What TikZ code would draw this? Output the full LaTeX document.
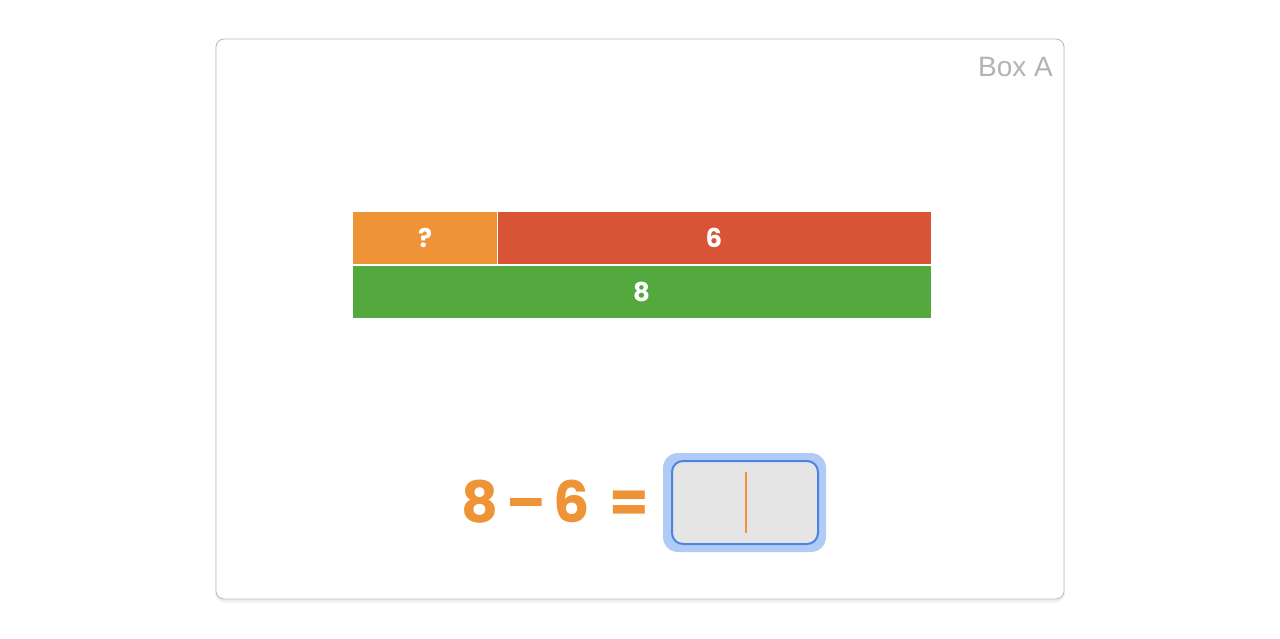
\documentclass[tikz,border=0pt]{standalone}
\usepackage{fontspec}
\setmainfont{Poppins}
\newfontfamily\boxfont{Liberation Sans}
\definecolor{framegray}{HTML}{BDBDBD}
\definecolor{labelgray}{HTML}{B3B3B3}
\definecolor{orangeC}{HTML}{EF9436}
\definecolor{redC}{HTML}{D95436}
\definecolor{greenC}{HTML}{53A93E}
\definecolor{glowblue}{HTML}{B0CBF5}
\definecolor{inputblue}{HTML}{4A86E0}
\definecolor{inputfill}{HTML}{E5E5E5}
\tikzset{
  bar/.style={draw=white, line width=1pt, inner sep=0pt, minimum height=53pt, text=white, font=\bfseries\fontsize{26}{26}\selectfont},
  eqtext/.style={anchor=base, text=orangeC, inner sep=0pt, font=\bfseries\fontsize{57}{57}\selectfont},
}
\begin{document}
\begin{tikzpicture}[x=1pt,y=-1pt]
\useasboundingbox (0,0) rectangle (1280,638);
\fill[white] (0,0) rectangle (1280,638);
% shadow of the frame
\fill[black!4, rounded corners=9pt] (215,40) rectangle (1065,603);
\fill[black!7, rounded corners=8pt] (216,40) rectangle (1064,601);
\node[draw=framegray, fill=white, rounded corners=8pt, line width=0.9pt, inner sep=0pt, minimum width=848pt, minimum height=560pt] (frame) at (640,319) {};
\node[anchor=base east, inner sep=0pt, text=labelgray, font=\boxfont\fontsize{28}{28}\selectfont] (boxa) at (1053,76) {Box A};
% bars
\node[bar, fill=orangeC, minimum width=145pt] (q) at (425,237.5) {?};
\node[bar, fill=redC, minimum width=434pt] (six) at (714,237.5) {6};
\node[bar, fill=greenC, minimum width=579pt] (eight) at (641.5,291.5) {8};
% equation
\node[eqtext] (n8) at (480,522) {8};
\node[eqtext] (minus) at (526,522) {–};
\node[eqtext] (n6) at (572,522) {6};
\node[eqtext] (eq) at (629,522) {=};
% input box
\node[fill=glowblue, rounded corners=15pt, inner sep=0pt, minimum width=163pt, minimum height=99pt] (glow) at (744.5,502.5) {};
\node[fill=inputfill, draw=inputblue, line width=2pt, rounded corners=11pt, inner sep=0pt, minimum width=146pt, minimum height=83pt] (input) at (745,502.5) {};
\node[fill=orangeC, inner sep=0pt, minimum width=2pt, minimum height=61pt] (cursor) at (745.5,502.5) {};
\end{tikzpicture}
\end{document}
